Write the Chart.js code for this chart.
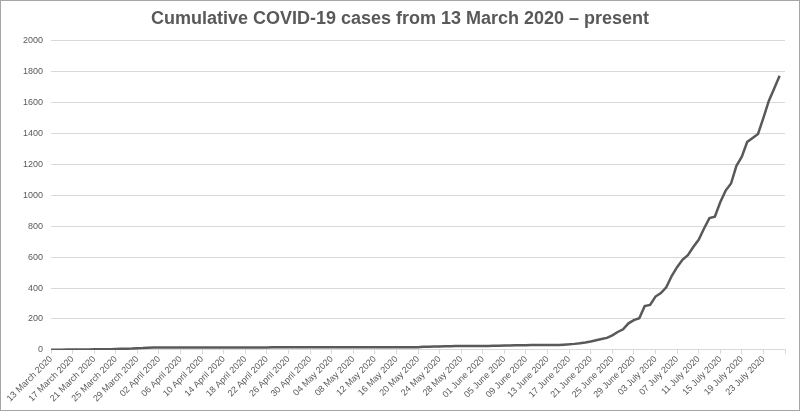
<!DOCTYPE html>
<html>
<head>
<meta charset="utf-8">
<script src="https://cdn.jsdelivr.net/npm/chart.js@4"></script>
<style>
    html, body { margin: 0; padding: 0; background: #fff; }
    .chart-box {
        width: 800px;
        height: 411px;
        box-sizing: border-box;
        border: 1px solid #a6a6a6;
        position: relative;
    }
</style>
</head>
<body>
<div class="chart-box"><canvas id="casesChart"></canvas></div>
<script>
// Tick labels shown on the x axis (every 4th day from 13 March)
const tickLabels = [
    '13 March 2020', '17 March 2020', '21 March 2020', '25 March 2020', '29 March 2020',
    '02 April 2020', '06 April 2020', '10 April 2020', '14 April 2020', '18 April 2020',
    '22 April 2020', '26 April 2020', '30 April 2020', '04 May 2020', '08 May 2020',
    '12 May 2020', '16 May 2020', '20 May 2020', '24 May 2020', '28 May 2020',
    '01 June 2020', '05 June 2020', '09 June 2020', '13 June 2020', '17 June 2020',
    '21 June 2020', '25 June 2020', '29 June 2020', '03 July 2020', '07 July 2020',
    '11 July 2020', '15 July 2020', '19 July 2020', '23 July 2020'
];

// Cumulative cases, one value per day from 13 March 2020 to 26 July 2020
const cumulativeCases = [
    1, 1, 1, 2, 2, 3, 3, 3, 4, 4, 5, 5, 6, 7,
    8, 9, 11, 12, 14, 15, 16,
    16, 16, 16, 16, 16, 16, 16, 16, 16, 16, 16, 16, 16, 16, 16, 16, 16, 16, 16, 16,
    17, 17, 17, 17, 17, 17, 17, 17, 17, 17, 17, 17, 17, 17, 17, 17, 17, 17, 17, 17,
    17, 17, 17, 17, 17, 17, 17,
    18, 20, 21, 22, 22, 23, 24,
    25, 25, 25, 26, 26, 26, 26, 27, 27, 28,
    29, 30, 30, 30, 31, 31, 31, 32, 32,
    32, 34, 36, 39, 43, 48,
    54, 62, 70, 78, 94, 116, 133, 172, 193, 205,
    283, 291, 345, 368, 405, 478, 535, 583, 613, 665,
    712, 785, 852, 861, 955, 1030, 1076, 1190, 1250, 1345,
    1370, 1396, 1500, 1610, 1690, 1772
];

const yTicks = { min: 0, max: 2000, step: 200 };

const textColor = '#595959';
const gridColor = '#d9d9d9';
const fontFamily = "'Liberation Sans', Arial, sans-serif";

function initializeChart() {
    const ctx = document.getElementById('casesChart').getContext('2d');
    const points = cumulativeCases.map((v, i) => ({ x: i, y: v }));

    window.casesChart = new Chart(ctx, {
        type: 'line',
        data: {
            datasets: [{
                label: 'Cumulative cases',
                data: points,
                borderColor: '#595959',
                borderWidth: 2.5,
                pointRadius: 0,
                tension: 0,
                fill: false
            }]
        },
        options: {
            responsive: true,
            maintainAspectRatio: false,
            animation: false,
            layout: {
                padding: { left: 14, right: 14, top: 3, bottom: 6 }
            },
            plugins: {
                legend: { display: false },
                tooltip: { enabled: false },
                title: {
                    display: true,
                    text: 'Cumulative COVID-19 cases from 13 March 2020 \u2013 present',
                    color: textColor,
                    font: { family: fontFamily, size: 18, weight: 'bold' },
                    padding: { top: 4, bottom: 11 }
                }
            },
            scales: {
                x: {
                    type: 'linear',
                    min: 0,
                    max: 136,
                    grid: {
                        drawOnChartArea: false,
                        drawTicks: true,
                        tickLength: 4,
                        color: gridColor
                    },
                    border: { color: gridColor },
                    ticks: {
                        stepSize: 4,
                        autoSkip: false,
                        maxRotation: 45,
                        minRotation: 45,
                        padding: 0,
                        color: textColor,
                        font: { family: fontFamily, size: 9 },
                        callback: function(value) {
                            return tickLabels[value / 4] || '';
                        }
                    }
                },
                y: {
                    min: yTicks.min,
                    max: yTicks.max,
                    grid: {
                        color: gridColor,
                        drawTicks: false
                    },
                    border: { display: false },
                    ticks: {
                        stepSize: yTicks.step,
                        padding: 8,
                        color: textColor,
                        font: { family: fontFamily, size: 9 },
                        callback: function(value) {
                            return String(value);
                        }
                    }
                }
            }
        }
    });
}

initializeChart();
</script>
</body>
</html>
